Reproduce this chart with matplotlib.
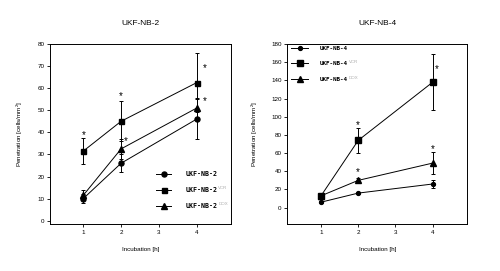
import numpy as np
import matplotlib
matplotlib.use('Agg')
import matplotlib.pyplot as plt

########################################################################
# data
hours = [1, 2, 4]

nb2 = [10, 26, 46]
nb2_err = [2.2, 4, 9]
nb2_vcr = [31.5, 45, 62.5]
nb2_vcr_err = [6, 9, 13.5]
nb2_dox = [11.5, 32.5, 51]
nb2_dox_err = [2.3, 4.5, 4.5]
stars_nb2_x = [1, 2, 2.13, 4.22, 4.22]
stars_nb2_y = [40, 57.8, 37.5, 70.4, 55.3]

nb4 = [6, 16, 26]
nb4_err = [1, 1.5, 4]
nb4_vcr = [13, 74, 138]
nb4_vcr_err = [1.5, 14, 30.5]
nb4_dox = [13, 30, 49]
nb4_dox_err = [1, 2.5, 12]
stars_nb4_x = [2, 2, 4, 4.12]
stars_nb4_y = [94, 42, 68, 155]

x_ticks = [1, 2, 3, 4]
sups = ['VCR', 'DOX']
########################################################################

plt.rcParams['font.family'] = ['Liberation Sans', 'DejaVu Sans']
W, H = 500, 271
fig = plt.figure(figsize=(W / 100, H / 100), dpi=100)

lw = 0.7
legends = []


def panel(rect, title, series, stars_x, stars_y, ylim, yticks, xlim, ylab_x,
          leg_size, leg_kw):
    ax = fig.add_axes(rect)
    for y, e, m, ms, lab in series:
        ax.errorbar(hours, y, yerr=e, fmt='none', ecolor='black',
                    elinewidth=lw, capsize=1.5, capthick=lw)
        ax.plot(hours, y, color='black', lw=lw, marker=m, ms=ms, label=lab)
    for sx, sy in zip(stars_x, stars_y):
        ax.annotate('*', xy=(sx, sy), xytext=(0, -2), textcoords='offset points',
                    fontsize=7, ha='center', va='center')
    ax.set_xlim(*xlim)
    ax.set_ylim(*ylim)
    ax.set_xticks(x_ticks)
    ax.set_yticks(yticks)
    ax.tick_params(labelsize=4.5, width=0.6, length=2, direction='out', pad=2)
    for s in ax.spines.values():
        s.set_linewidth(0.7)
    ax.set_title(title, fontsize=6, pad=14)
    ax.set_ylabel('Penetration [cells/mm$^{\\mathregular{2}}$]', fontsize=4.5)
    ax.yaxis.set_label_coords(ylab_x, 0.5)
    ax.set_xlabel('Incubation [h]', fontsize=4.5)
    ax.xaxis.set_label_coords(0.5, -0.125)

    mono = {'family': 'DejaVu Sans Mono', 'weight': 'bold', 'size': leg_size}
    leg = ax.legend(frameon=False, prop=mono, borderpad=0, borderaxespad=0,
                    **leg_kw)
    legends.append(leg)
    return ax


panel([50 / W, 1 - 224 / H, 180.7 / W, 180 / H], 'UKF-NB-2',
      [(nb2, nb2_err, 'o', 3.6, 'UKF-NB-2'),
       (nb2_vcr, nb2_vcr_err, 's', 3.6, 'UKF-NB-2'),
       (nb2_dox, nb2_dox_err, '^', 3.8, 'UKF-NB-2')],
      stars_nb2_x, stars_nb2_y, (-1.5, 80), np.arange(0, 81, 10),
      (0.12, 4.9), -0.138, 4.8,
      dict(loc='upper left', bbox_to_anchor=(0.587, 0.293),
           handlelength=2.25, handletextpad=2.2, labelspacing=1.5))

panel([287.3 / W, 1 - 224 / H, 180 / W, 180 / H], 'UKF-NB-4',
      [(nb4, nb4_err, 'o', 2.8, 'UKF-NB-4'),
       (nb4_vcr, nb4_vcr_err, 's', 3.8, 'UKF-NB-4'),
       (nb4_dox, nb4_dox_err, '^', 3.8, 'UKF-NB-4')],
      stars_nb4_x, stars_nb4_y, (-18, 180), np.arange(0, 181, 20),
      (0.094, 4.93), -0.152, 4.2,
      dict(loc='upper left', bbox_to_anchor=(0.02, 0.99),
           handlelength=3.0, handletextpad=2.0, labelspacing=1.8))

# grey superscripts next to the legend labels
fig.canvas.draw()
r = fig.canvas.get_renderer()
for leg in legends:
    for t, sup in zip(leg.get_texts()[1:], sups):
        bb = t.get_window_extent(r)
        fig.text((bb.x1 + 0.5) / W, (bb.y1 - 2.5) / H, sup, fontsize=3.2,
                 color='#aaaaaa', va='bottom', ha='left')

fig.savefig('out.png', dpi=100)
